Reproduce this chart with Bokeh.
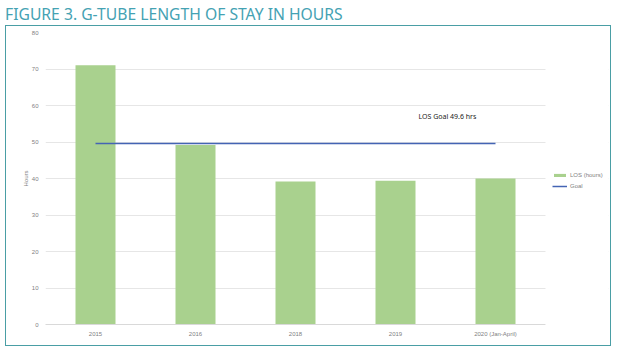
from bokeh.plotting import figure
from bokeh.layouts import column
from bokeh.models import (Range1d, Label, Legend, LegendItem, BoxAnnotation,
                          ColumnDataSource, Div, FixedTicker)
from bokeh.embed import file_html
from bokeh.resources import INLINE

# ---- data ----
years = ["2015", "2016", "2018", "2019", "2020 (Jan-April)"]
los_hours = [71.0, 49.2, 39.2, 39.4, 40.0]
goal_hours = [49.6, 49.6, 49.6, 49.6, 49.6]
y_ticks = [0, 10, 20, 30, 40, 50, 60, 70, 80]
title_text = "FIGURE 3. G-TUBE LENGTH OF STAY IN HOURS"
goal_label = "LOS Goal 49.6  hrs"

# category slots (one unit per category, centred)
xpos = [i + 0.5 for i in range(len(years))]
n_cat = len(years)

src = ColumnDataSource(dict(x=xpos, year=years, los=los_hours, goal=goal_hours))

title = Div(text=title_text, width=618, height=26, margin=0,
            styles={"font-family": "Noto Sans", "font-size": "15.7px",
                    "color": "#45a2b3", "padding-left": "5px",
                    "padding-top": "3px", "white-space": "nowrap"})

p = figure(width=604, height=319, x_range=Range1d(0, n_cat + 0.63),
           y_range=Range1d(0, 80), output_backend="svg", toolbar_location=None,
           min_border_left=39, min_border_right=2, min_border_top=6,
           min_border_bottom=21, margin=(0, 0, 0, 6),
           styles={"outline": "1.5px solid #4a9ea5"})

p.outline_line_color = None
p.background_fill_color = "white"
p.border_fill_color = "white"

bars = p.vbar(x="x", top="los", width=0.4, source=src,
              fill_color="#a9d18e", line_color=None)
goal = p.line(x="x", y="goal", source=src, line_color="#4464b4", line_width=1.5)

# axes
p.yaxis.ticker = FixedTicker(ticks=y_ticks)
p.yaxis.axis_line_color = None
p.yaxis.major_tick_line_color = None
p.yaxis.minor_tick_line_color = None
p.yaxis.major_tick_out = 0
p.yaxis.major_tick_in = 0
p.yaxis.major_label_text_font_size = "6px"
p.yaxis.major_label_text_color = "#7f7f7f"
p.yaxis.major_label_standoff = 7
p.yaxis.axis_label = "Hours"
p.yaxis.axis_label_text_font_size = "6px"
p.yaxis.axis_label_text_font_style = "normal"
p.yaxis.axis_label_text_color = "#7f7f7f"
p.yaxis.axis_label_standoff = 0

p.xaxis.ticker = FixedTicker(ticks=xpos)
p.xaxis.major_label_overrides = {x: y for x, y in zip(xpos, years)}
p.xaxis.bounds = (0, n_cat)
p.xaxis.axis_line_color = "#d9d9d9"
p.xaxis.major_tick_line_color = None
p.xaxis.minor_tick_line_color = None
p.xaxis.major_tick_out = 0
p.xaxis.major_tick_in = 0
p.xaxis.major_label_text_font_size = "6px"
p.xaxis.major_label_text_color = "#7f7f7f"
p.xaxis.major_label_standoff = 6

p.xgrid.grid_line_color = None
p.ygrid.grid_line_color = "#e6e6e6"

# blank the gridlines in the legend area to the right of the plot
p.add_layout(BoxAnnotation(left=n_cat, fill_color="white", fill_alpha=1,
                           line_color=None))

p.add_layout(Label(x=3.73, y=55.8, text=goal_label, text_font_size="7px",
                   text_color="#222222", text_font="Noto Sans"))

legend = Legend(items=[LegendItem(label="LOS (hours)", renderers=[bars]),
                       LegendItem(label="Goal", renderers=[goal])],
                location=(507, 134), label_text_font_size="6px",
                label_text_color="#7f7f7f", glyph_width=15, glyph_height=4,
                label_height=8, spacing=3, padding=0, margin=0,
                border_line_color=None, background_fill_alpha=0,
                label_standoff=3)
p.add_layout(legend)

layout = column(title, p, spacing=0)
open("out.html", "w").write(file_html(layout, INLINE))
